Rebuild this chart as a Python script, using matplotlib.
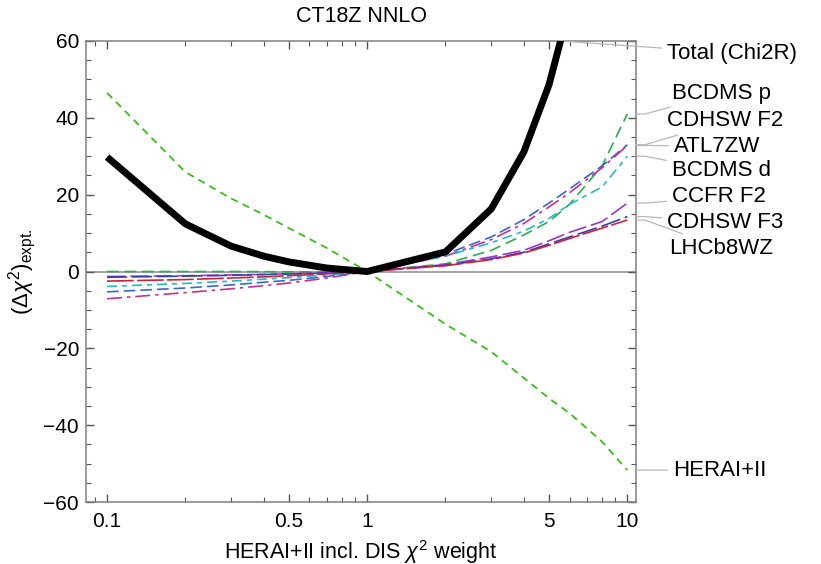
import numpy as np
import matplotlib
matplotlib.use("Agg")
import matplotlib.pyplot as plt
from matplotlib.ticker import FixedLocator, NullFormatter, MultipleLocator

plt.rcParams["font.family"] = ["Liberation Sans", "DejaVu Sans"]
plt.rcParams["mathtext.fontset"] = "custom"
plt.rcParams["mathtext.rm"] = "Liberation Sans"
plt.rcParams["mathtext.it"] = "Liberation Sans:italic"

# weights on the HERA I+II chi2
weight = [0.1, 0.2, 0.3, 0.4, 0.5, 0.7, 1, 2, 3, 4, 5, 6, 8, 10]

total    = [29.8, 12.4, 6.6, 4.0, 2.5, 0.9, 0, 5.1, 16.3, 31.1, 48.6, 69.0, np.nan, np.nan]
herai    = [46.5, 25.9, 19.0, 14.8, 11.3, 6.1, 0, -13.7, -20.9, -27.7, -33.0, -36.9, -44.3, -51.7]
bcdms_p  = [0.0, 0.0, 0.0, -0.05, -0.1, -0.05, 0, 2.0, 5.5, 9.5, 13.0, 17.5, 27.5, 41.0]
cdhsw_f2 = [-5.3, -4.3, -3.5, -2.8, -2.3, -1.3, 0, 4.5, 9.0, 13.5, 17.8, 21.5, 27.5, 33.0]
atl7zw   = [-7.1, -5.5, -4.5, -3.7, -3.0, -1.7, 0, 4.0, 8.3, 12.5, 16.8, 20.5, 27.0, 32.8]
bcdms_d  = [-3.9, -3.1, -2.5, -2.0, -1.6, -0.9, 0, 4.0, 7.5, 10.5, 13.8, 17.5, 22.0, 30.0]
ccfr_f2  = [-1.3, -1.1, -0.9, -0.75, -0.6, -0.35, 0, 1.8, 3.8, 5.5, 8.0, 10.2, 13.0, 17.8]
cdhsw_f3 = [-1.5, -1.2, -1.0, -0.8, -0.65, -0.4, 0, 1.6, 3.3, 5.0, 7.2, 9.0, 11.8, 14.3]
lhcb8wz  = [-2.5, -2.1, -1.7, -1.4, -1.1, -0.6, 0, 1.5, 3.1, 4.8, 6.8, 8.6, 11.3, 13.4]

# name, values, colour, dash, label position (figure px from top-left)
series = [
    ("BCDMS p",  bcdms_p,  "#2aae4f", (0, (7, 3.5)),          (672, 93)),
    ("CDHSW F2", cdhsw_f2, "#3a66d0", (0, (7, 3)),            (667, 121)),
    ("ATL7ZW",   atl7zw,   "#c8308e", (0, (9, 3, 2, 3)),      (674, 146)),
    ("BCDMS d",  bcdms_d,  "#26b8c8", (0, (6, 3, 3, 3)),      (672, 171)),
    ("CCFR F2",  ccfr_f2,  "#9a35d0", (0, (11, 3)),           (672, 197)),
    ("CDHSW F3", cdhsw_f3, "#3240b0", (0, (12, 3)),           (667, 223)),
    ("LHCb8WZ",  lhcb8wz,  "#cc2238", (0, (16, 2)),           (669, 248)),
]

W, H = 821, 564
fig = plt.figure(figsize=(W / 100, H / 100), dpi=100)
ax = fig.add_axes([86 / W, 1 - 502 / H, (636 - 86) / W, (502 - 41) / H])

ax.axhline(0, color="#8c8c8c", lw=1.1, zorder=1)

for name, vals, col, ls, _ in series:
    ax.plot(weight, vals, color=col, lw=1.2, ls=ls, zorder=3)
ax.plot(weight, herai, color="#3cbb1e", lw=1.3, ls=(0, (4, 3)), zorder=3)
ax.plot(weight, total, color="black", lw=5, solid_joinstyle="round",
        solid_capstyle="butt", zorder=4)

ax.set_xscale("log")
ax.set_xlim(0.083, 10.8)
ax.set_ylim(-60, 60)
ax.xaxis.set_major_locator(FixedLocator([0.1, 0.5, 1, 5, 10]))
ax.set_xticklabels(["0.1", "0.5", "1", "5", "10"])
ax.xaxis.set_minor_locator(FixedLocator([0.09, 0.2, 0.3, 0.4, 0.6, 0.7, 0.8, 0.9,
                                         2, 3, 4, 6, 7, 8, 9]))
ax.xaxis.set_minor_formatter(NullFormatter())
ax.yaxis.set_major_locator(MultipleLocator(20))
ax.yaxis.set_minor_locator(MultipleLocator(5))
ax.set_yticklabels([f"{int(v)}".replace("-", "\u2212") for v in ax.get_yticks()])

ax.tick_params(which="both", direction="in", top=True, right=True,
               color="#555555", labelsize=15, labelcolor="black")
ax.tick_params(which="major", length=6, width=1)
ax.tick_params(which="minor", length=3.5, width=0.8)
ax.tick_params(axis="x", pad=7)
ax.tick_params(axis="y", pad=5)
for s in ax.spines.values():
    s.set_color("#808080")
    s.set_linewidth(1.1)

ax.set_title("CT18Z NNLO", fontsize=15.5, pad=14)
ax.set_xlabel(r"HERAI+II incl. DIS $\chi^2$ weight", fontsize=15.5, labelpad=5)
ax.set_ylabel(r"$(\Delta\chi^2)_{\mathrm{expt.}}$", fontsize=16, labelpad=4)

# callout labels
lead = dict(arrowstyle="-", color="#b8b8b8", lw=0.9, shrinkA=2, shrinkB=0,
            connectionstyle="arc,angleA=180,angleB=0,armA=0,armB=9,rad=0")
ytr = ax.get_yaxis_transform()
for name, vals, col, ls, (px, py) in series:
    ax.annotate(name, xy=(1.0, vals[-1]), xycoords=ytr,
                xytext=(px, H - py), textcoords="figure pixels",
                ha="left", va="center", fontsize=16, arrowprops=lead,
                annotation_clip=False)
ax.annotate("HERAI+II", xy=(1.0, herai[-1]), xycoords=ytr,
            xytext=(673, H - 470), textcoords="figure pixels",
            ha="left", va="center", fontsize=16, arrowprops=lead,
            annotation_clip=False)
# where the total curve leaves the top of the frame
lw_ = np.log10(weight[:12])
x_exit = 10 ** np.interp(60, total[9:12], lw_[9:12])
ax.annotate("Total (Chi2R)", xy=(x_exit, 60), xycoords="data",
            xytext=(667, H - 53), textcoords="figure pixels",
            ha="left", va="center", fontsize=16,
            arrowprops=dict(arrowstyle="-", color="#b8b8b8", lw=0.9,
                            shrinkA=2, shrinkB=0),
            annotation_clip=False)

fig.savefig("out.png", dpi=100)
